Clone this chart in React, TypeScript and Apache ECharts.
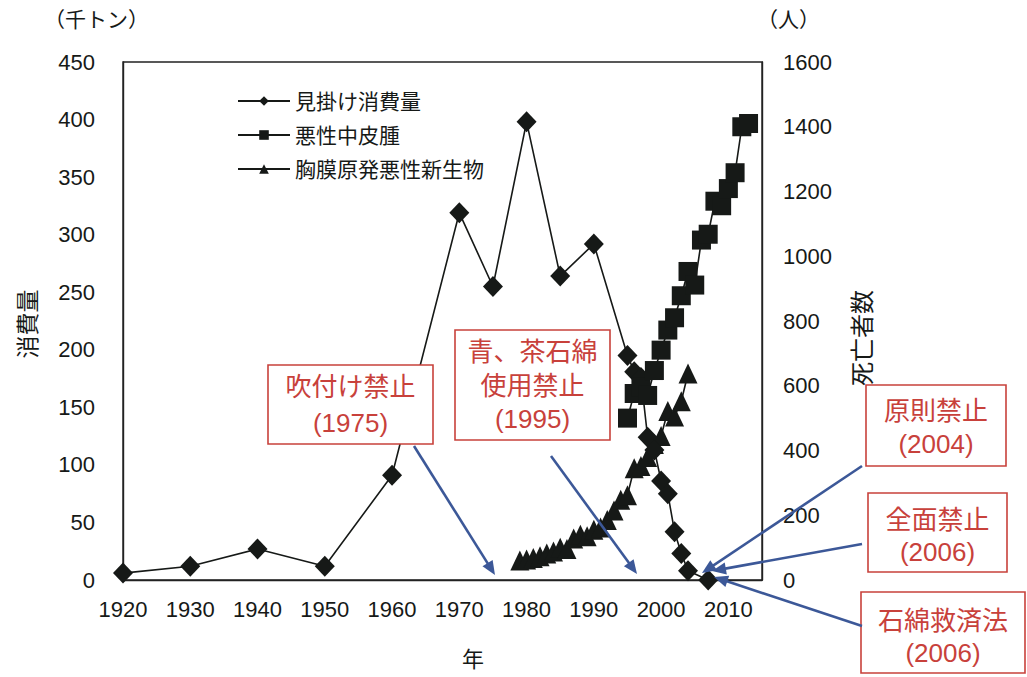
import React, { useEffect, useRef } from 'react';
import * as echarts from 'echarts';

// ---- data ----
const seriesNames = ['見掛け消費量', '悪性中皮腫', '胸膜原発悪性新生物'];

const consumptionYears = [1920, 1930, 1940, 1950, 1960, 1970, 1975, 1980, 1985, 1990, 1995, 1996, 1997, 1998, 1999, 2000, 2001, 2002, 2003, 2004, 2007];
const consumptionValues = [6, 12, 27, 12, 91, 319, 255, 398, 264, 292, 195, 181, 176, 124, 113, 86, 75, 42, 23, 8, 0];

const mesoYears = [1995, 1996, 1997, 1998, 1999, 2000, 2001, 2002, 2003, 2004, 2005, 2006, 2007, 2008, 2009, 2010, 2011, 2012, 2013];
const mesoValues = [500, 576, 597, 570, 647, 710, 772, 810, 878, 953, 911, 1050, 1068, 1170, 1156, 1209, 1258, 1400, 1410];

const pleuralYears = [1979, 1980, 1981, 1982, 1983, 1984, 1985, 1986, 1987, 1988, 1989, 1990, 1991, 1992, 1993, 1994, 1995, 1996, 1997, 1998, 1999, 2000, 2001, 2002, 2003, 2004];
const pleuralValues = [60, 63, 68, 73, 82, 88, 100, 96, 128, 140, 135, 155, 162, 185, 215, 248, 262, 345, 352, 380, 420, 445, 522, 505, 552, 638];

const xMin = 1920;
const xMax = 2015;
const xInterval = 10;
const leftMax = 450;
const leftInterval = 50;
const rightMax = 1600;
const rightInterval = 200;

const leftUnit = '（千トン）';
const rightUnit = '（人）';
const leftTitle = '消費量';
const rightTitle = '死亡者数';
const xTitle = '年';

const annotations = [
  { lines: ['吹付け禁止', '(1975)'] },
  { lines: ['青、茶石綿', '使用禁止', '(1995)'] },
  { lines: ['原則禁止', '(2004)'] },
  { lines: ['全面禁止', '(2006)'] },
  { lines: ['石綿救済法', '(2006)'] },
];

// ---- layout (pixels) ----
const annotationLayout = [
  { x: 268, y: 365, w: 165, h: 79, lineY: [387, 423] },
  { x: 455, y: 330, w: 155, h: 110, lineY: [352, 386, 419] },
  { x: 866, y: 385, w: 140, h: 81, lineY: [411, 444] },
  { x: 868, y: 493, w: 139, h: 79, lineY: [520, 552] },
  { x: 861, y: 592, w: 164, h: 81, lineY: [621, 653] },
];

const arrowLayout = [
  [414, 446, 495, 575],
  [551, 456, 637, 574],
  [862, 466, 702, 573],
  [862, 544, 712, 571],
  [862, 626, 714, 577],
];

const FONT = "'Liberation Sans', Arial, 'Noto Sans CJK JP', sans-serif";
const RED = '#c8413b';
const BLUE = '#3c5898';
const INK = '#161917';

function arrow(x1: number, y1: number, x2: number, y2: number) {
  const dx = x2 - x1;
  const dy = y2 - y1;
  const len = Math.hypot(dx, dy);
  const ux = dx / len;
  const uy = dy / len;
  const hl = 14;
  const hw = 6;
  const bx = x2 - ux * hl;
  const by = y2 - uy * hl;
  return [
    {
      type: 'line',
      z: 100,
      shape: { x1, y1, x2: bx + ux * 2, y2: by + uy * 2 },
      style: { stroke: BLUE, lineWidth: 2.6 },
    },
    {
      type: 'polygon',
      z: 100,
      shape: {
        points: [
          [x2, y2],
          [bx - uy * hw, by + ux * hw],
          [bx + uy * hw, by - ux * hw],
        ],
      },
      style: { fill: BLUE },
    },
  ];
}

export default function App() {
  const ref = useRef<HTMLDivElement>(null);

  useEffect(() => {
    document.body.style.margin = '0';
    document.body.style.overflow = 'hidden';
    if (!ref.current) return;
    const chart = echarts.init(ref.current, null, { renderer: 'svg' });

    const graphics: any[] = [];
    graphics.push({
      type: 'text',
      z: 100,
      style: { text: leftUnit, x: 44, y: 19, font: `21px ${FONT}`, fill: INK, verticalAlign: 'middle' },
    });
    graphics.push({
      type: 'text',
      z: 100,
      style: { text: rightUnit, x: 757, y: 19, font: `21px ${FONT}`, fill: INK, verticalAlign: 'middle' },
    });
    annotations.forEach((a, i) => {
      const l = annotationLayout[i];
      graphics.push({
        type: 'rect',
        z: 100,
        shape: { x: l.x, y: l.y, width: l.w, height: l.h },
        style: { fill: '#fff', stroke: RED, lineWidth: 1.6 },
      });
      a.lines.forEach((t, j) => {
        graphics.push({
          type: 'text',
          z: 101,
          style: {
            text: t,
            x: l.x + l.w / 2,
            y: l.lineY[j],
            align: 'center',
            verticalAlign: 'middle',
            font: `26px ${FONT}`,
            fill: RED,
          },
        });
      });
    });
    arrowLayout.forEach((a) => {
      graphics.push(...arrow(a[0], a[1], a[2], a[3]));
    });

    const toPairs = (xs: number[], ys: number[]) => xs.map((x, i) => [x, ys[i]]);

    const lineBase = {
      type: 'line',
      clip: false,
      lineStyle: { color: INK, width: 1.6 },
      itemStyle: { color: INK },
      emphasis: { disabled: true },
    };

    chart.setOption({
      animation: false,
      textStyle: { fontFamily: FONT },
      grid: {
        left: 123,
        right: 265,
        top: 62,
        bottom: 97,
        show: true,
        borderColor: '#222',
        borderWidth: 1.4,
        backgroundColor: 'transparent',
      },
      legend: {
        orient: 'vertical',
        left: 232,
        top: 85,
        itemWidth: 52,
        itemHeight: 12,
        itemGap: 12,
        textStyle: { fontSize: 21, color: INK, fontFamily: FONT, lineHeight: 22 },
        data: seriesNames,
      },
      xAxis: {
        type: 'value',
        min: xMin,
        max: xMax,
        interval: xInterval,
        name: xTitle,
        nameLocation: 'middle',
        nameGap: 68,
        nameTextStyle: { fontSize: 22, color: INK, padding: [0, 0, 0, 61] },
        axisLine: { show: true, lineStyle: { color: '#222', width: 1.4 } },
        axisTick: { show: false },
        splitLine: { show: false },
        axisLabel: {
          fontSize: 22,
          color: INK,
          margin: 18,
          showMaxLabel: false,
          formatter: (v: number) => (v % 10 === 0 ? String(v) : ''),
        },
      },
      yAxis: [
        {
          type: 'value',
          min: 0,
          max: leftMax,
          interval: leftInterval,
          position: 'left',
          name: leftTitle,
          nameLocation: 'middle',
          nameRotate: 90,
          nameGap: 84,
          nameTextStyle: { fontSize: 23, color: INK, padding: [0, 6, 0, 0] },
          axisLine: { show: true, lineStyle: { color: '#222', width: 1.4 } },
          axisTick: { show: false },
          splitLine: { show: false },
          axisLabel: { fontSize: 22, color: INK, margin: 28, formatter: (v: number) => String(v) },
        },
        {
          type: 'value',
          min: 0,
          max: rightMax,
          interval: rightInterval,
          position: 'right',
          name: rightTitle,
          nameLocation: 'middle',
          nameRotate: 90,
          nameGap: 88,
          nameTextStyle: { fontSize: 24, color: INK, padding: [0, 34, 0, 0] },
          axisLine: { show: true, lineStyle: { color: '#222', width: 1.4 } },
          axisTick: { show: false },
          splitLine: { show: false },
          axisLabel: { fontSize: 22, color: INK, margin: 21, formatter: (v: number) => String(v) },
        },
      ],
      series: [
        {
          ...lineBase,
          name: seriesNames[0],
          yAxisIndex: 0,
          symbol: 'diamond',
          symbolSize: [20, 21],
          data: toPairs(consumptionYears, consumptionValues),
          z: 3,
        },
        {
          ...lineBase,
          name: seriesNames[1],
          yAxisIndex: 1,
          symbol: 'rect',
          symbolSize: 19,
          data: toPairs(mesoYears, mesoValues),
          z: 4,
        },
        {
          ...lineBase,
          name: seriesNames[2],
          yAxisIndex: 1,
          symbol: 'triangle',
          symbolSize: [19, 20],
          data: toPairs(pleuralYears, pleuralValues),
          z: 2,
        },
      ],
      graphic: graphics,
    });

    return () => {
      chart.dispose();
    };
  }, []);

  return <div ref={ref} style={{ width: 1027, height: 677, background: '#fff' }} />;
}
